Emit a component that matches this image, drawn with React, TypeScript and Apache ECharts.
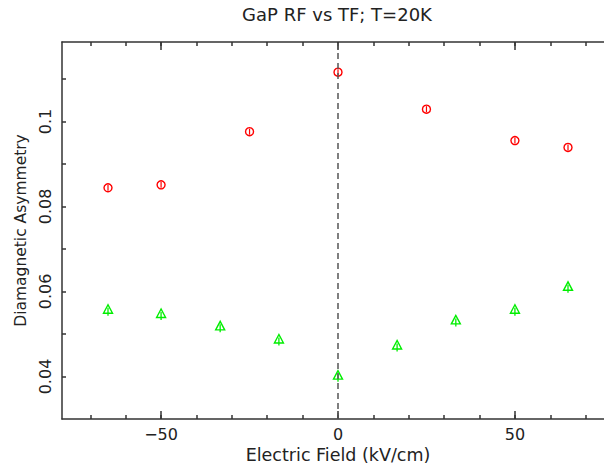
import React, { useEffect, useRef } from "react";
import * as echarts from "echarts";

const titleText = "GaP RF vs TF; T=20K";
const xName = "Electric Field (kV/cm)";
const yName = "Diamagnetic Asymmetry";

const redX = [-65, -50, -25, 0, 25, 50, 65];
const redY = [0.0844, 0.0851, 0.0976, 0.1116, 0.1029, 0.0955, 0.0939];

const greenX = [-65, -50, -33.3, -16.7, 0, 16.7, 33.3, 50, 65];
const greenY = [0.0557, 0.0547, 0.0518, 0.0487, 0.0402, 0.0473, 0.0532, 0.0557, 0.0611];

const xMinorTicks = [-70, -60, -50, -40, -30, -20, -10, 0, 10, 20, 30, 40, 50, 60, 70];
const xMajorTicks = [-50, 0, 50];
const yTicks = [0.04, 0.05, 0.06, 0.07, 0.08, 0.09, 0.1, 0.11];
const yLabels = [0.04, 0.06, 0.08, 0.1];

const X_MIN = -78;
const X_MAX = 78;
const Y_MIN = 0.03;
const Y_MAX = 0.1187;

const FONT = "DejaVu Sans";
const TEXT_COLOR = "#222";
const AXIS_COLOR = "#333";

export default function App() {
  const ref = useRef<HTMLDivElement>(null);

  useEffect(() => {
    if (!ref.current) return;
    const chart = echarts.init(ref.current, undefined, { renderer: "svg" });

    const fmtX = (v: number) => (v < 0 ? "\u2212" + Math.abs(v) : String(v));

    const baseX = (pos: "top" | "bottom", ticks: number[], len: number, showLine: boolean, showLabel: boolean, withName: boolean) => ({
      type: "value",
      position: pos,
      min: X_MIN,
      max: X_MAX,
      gridIndex: 0,
      name: withName ? xName : "",
      nameLocation: "middle",
      nameGap: 27,
      nameMoveOverlap: false,
      nameTextStyle: { fontFamily: FONT, fontSize: 17.5, lineHeight: 17, color: TEXT_COLOR },
      axisLine: { show: showLine, onZero: false, lineStyle: { color: AXIS_COLOR, width: 1.5 } },
      axisTick: { show: true, inside: true, length: len, customValues: ticks, lineStyle: { color: AXIS_COLOR, width: 1.5 } },
      axisLabel: {
        show: showLabel,
        customValues: xMajorTicks,
        formatter: fmtX,
        fontFamily: FONT,
        fontSize: 16,
        lineHeight: 16,
        color: TEXT_COLOR,
        margin: 7,
      },
      splitLine: { show: false },
    });

    chart.setOption({
      animation: false,
      backgroundColor: "#ffffff",
      grid: { left: 62, top: 42, right: -10, bottom: 44, containLabel: false, outerBoundsMode: "none" },
      graphic: [
        {
          type: "text",
          x: 337,
          y: 14,
          style: {
            text: titleText,
            fontFamily: FONT,
            fontSize: 18,
            fill: TEXT_COLOR,
            align: "center",
            verticalAlign: "middle",
          },
        },
      ],
      xAxis: [
        baseX("bottom", xMinorTicks, 4, true, true, true),
        baseX("bottom", xMajorTicks, 8, false, false, false),
        baseX("top", xMinorTicks, 4, true, false, false),
        baseX("top", xMajorTicks, 8, false, false, false),
      ],
      yAxis: [
        {
          type: "value",
          position: "left",
          min: Y_MIN,
          max: Y_MAX,
          name: yName,
          nameLocation: "middle",
          nameRotate: 90,
          nameGap: 33,
          nameMoveOverlap: false,
          nameTextStyle: { fontFamily: FONT, fontSize: 15.5, color: TEXT_COLOR },
          axisLine: { show: true, onZero: false, lineStyle: { color: AXIS_COLOR, width: 1.5 } },
          axisTick: { show: true, inside: true, length: 4, customValues: yTicks, lineStyle: { color: AXIS_COLOR, width: 1.5 } },
          axisLabel: {
            show: true,
            customValues: yLabels,
            rotate: 90,
            formatter: (v: number) => String(+v.toFixed(2)),
            fontFamily: FONT,
            fontSize: 16,
            color: TEXT_COLOR,
            margin: 9,
          },
          splitLine: { show: false },
        },
      ],
      series: [
        {
          type: "custom",
          name: "RF",
          xAxisIndex: 0,
          yAxisIndex: 0,
          data: redX.map((x, i) => [x, redY[i]]),
          renderItem: (_params: any, api: any) => {
            const p = api.coord([api.value(0), api.value(1)]);
            return {
              type: "group",
              children: [
                { type: "circle", shape: { cx: p[0], cy: p[1], r: 4 }, style: { fill: "none", stroke: "#ff0000", lineWidth: 1.4 } },
                { type: "line", shape: { x1: p[0], y1: p[1] - 3, x2: p[0], y2: p[1] + 3 }, style: { stroke: "#ff0000", lineWidth: 1.2 } },
              ],
            };
          },
          markLine: {
            silent: true,
            symbol: ["none", "none"],
            label: { show: false },
            lineStyle: { color: "#555", width: 1.5, type: [6, 4] },
            data: [{ xAxis: 0 }],
          },
          z: 3,
        },
        {
          type: "custom",
          name: "TF",
          xAxisIndex: 0,
          yAxisIndex: 0,
          data: greenX.map((x, i) => [x, greenY[i]]),
          renderItem: (_params: any, api: any) => {
            const p = api.coord([api.value(0), api.value(1)]);
            return {
              type: "group",
              children: [
                {
                  type: "polygon",
                  shape: { points: [[p[0], p[1] - 5], [p[0] - 4.5, p[1] + 3.5], [p[0] + 4.5, p[1] + 3.5]] },
                  style: { fill: "none", stroke: "#00ee00", lineWidth: 1.4 },
                },
                { type: "line", shape: { x1: p[0], y1: p[1] - 2, x2: p[0], y2: p[1] + 6 }, style: { stroke: "#00ee00", lineWidth: 1.3 } },
              ],
            };
          },
          z: 3,
        },
      ],
    });

    return () => chart.dispose();
  }, []);

  return <div ref={ref} style={{ position: "absolute", left: 0, top: 0, width: 604, height: 463 }} />;
}
